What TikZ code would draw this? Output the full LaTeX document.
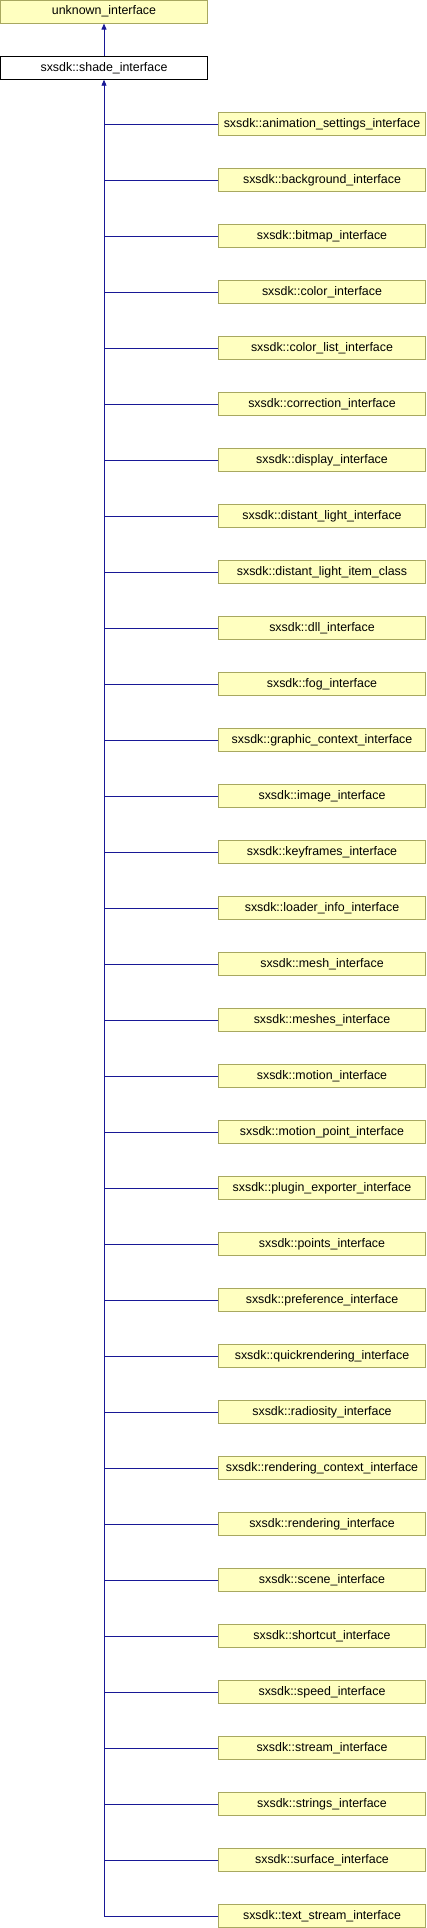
\documentclass[tikz,border=0pt]{standalone}
\usepackage{fontspec}
\setmainfont{Liberation Sans}
\usetikzlibrary{arrows.meta}
\definecolor{boxfill}{RGB}{255,255,192}
\definecolor{boxline}{RGB}{168,168,96}
\definecolor{edgeblue}{RGB}{24,24,150}
\tikzset{
	classbox/.style = {draw = boxline, fill = boxfill, line width = 0.8pt,
		minimum width = 207pt, minimum height = 23pt, inner sep = 0pt,
		font = \fontsize{12.4}{14}\selectfont},
	basebox/.style = {classbox, draw = black, fill = white},
	inherit/.style = {draw = edgeblue, line width = 0.9pt},
	tip/.style = {inherit, -{Triangle[length=6pt,width=5pt]}}
}

\begin{document}
\begin{tikzpicture}[x = 1pt, y = -1pt]
	
	\useasboundingbox (0,0) rectangle (426,1928);
	
	% base classes
	\node[classbox] (unknown) at (104,11.7) {unknown\_interface};
	\node[basebox] (shade) at (104,67.8) {sxsdk::shade\_interface};
	\draw[tip] (shade) -- (unknown);
	
	% derived classes
	\foreach \lbl [count = \i from 0] in {animation_settings_interface,
		background_interface, bitmap_interface, color_interface,
		color_list_interface, correction_interface, display_interface,
		distant_light_interface, distant_light_item_class, dll_interface,
		fog_interface, graphic_context_interface, image_interface,
		keyframes_interface, loader_info_interface, mesh_interface,
		meshes_interface, motion_interface, motion_point_interface,
		plugin_exporter_interface, points_interface, preference_interface,
		quickrendering_interface, radiosity_interface,
		rendering_context_interface, rendering_interface, scene_interface,
		shortcut_interface, speed_interface, stream_interface,
		strings_interface, surface_interface, text_stream_interface} {
		\pgfmathsetmacro{\y}{124 + 56*\i}
		\node[classbox] (child\i) at (322,\y)
		{\detokenize{sxsdk::}\detokenize\expandafter{\lbl}};
		\draw[inherit] (shade.south |- child\i.west) -- (child\i.west);
	}
	
	% trunk
	\coordinate (trunk) at (shade.south |- child32.west);
	\draw[tip] (trunk) -- (shade);
	
\end{tikzpicture}
\end{document}
